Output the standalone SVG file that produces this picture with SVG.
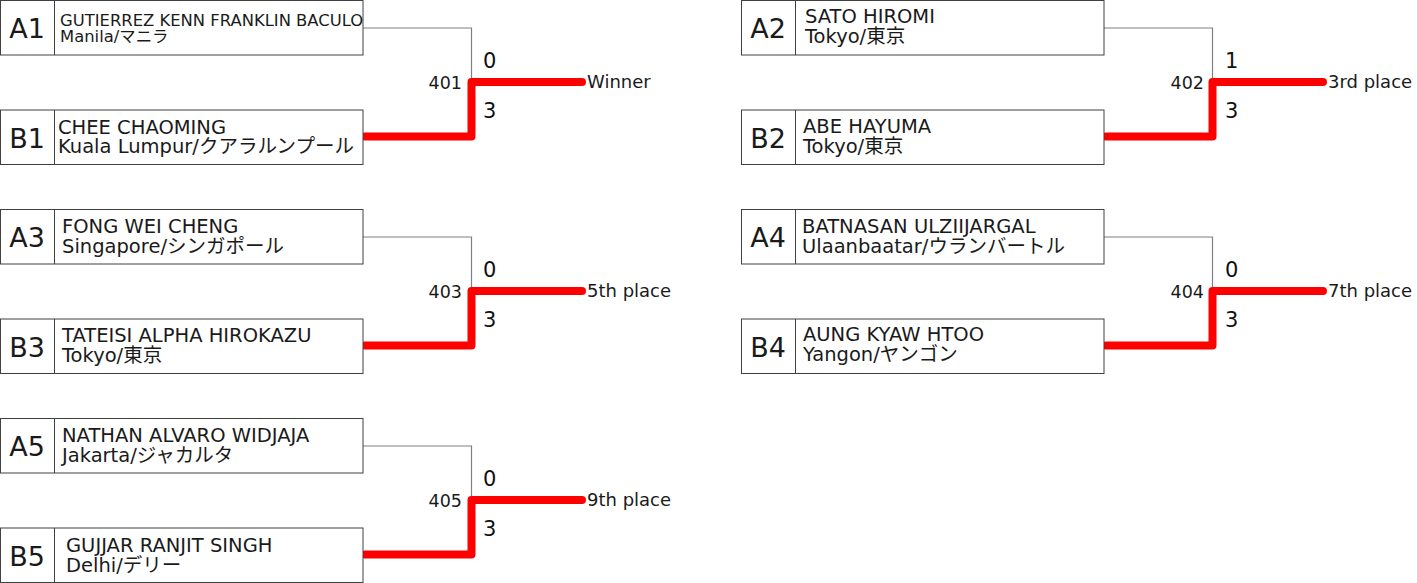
<svg xmlns="http://www.w3.org/2000/svg" width="1417" height="583" viewBox="0 0 1417 583">
<style>
.box{fill:#fff;stroke:#404040;stroke-width:1}
.sep{stroke:#404040;stroke-width:1}
.lbl{font-family:"DejaVu Sans","Noto Sans CJK JP",sans-serif;font-size:27px;fill:#1a1a1a;text-anchor:middle}
.nm{font-family:"DejaVu Sans","Noto Sans CJK JP",sans-serif;font-size:19.5px;fill:#1a1a1a}
.sm{font-family:"DejaVu Sans","Noto Sans CJK JP",sans-serif;font-size:16.4px;fill:#1a1a1a}
.mid{font-family:"DejaVu Sans",sans-serif;font-size:17.5px;fill:#1a1a1a;text-anchor:end}
.sc{font-family:"DejaVu Sans",sans-serif;font-size:21px;fill:#111}
.pl{font-family:"DejaVu Sans",sans-serif;font-size:18px;fill:#1a1a1a}
.lose{fill:none;stroke:#808080;stroke-width:1.2}
.win{fill:none;stroke:#ff0000;stroke-width:8;stroke-linecap:round;stroke-linejoin:round}
</style>
<rect width="1417" height="583" fill="#fff"/>
<g id="connectors">
<path class="lose" d="M363,28 H471.5 V82"/>
<path class="win" d="M365,136.5 H471.5 V82 H582"/>
<path class="lose" d="M1104,28 H1212.5 V82"/>
<path class="win" d="M1106,136.5 H1212.5 V82 H1323"/>
<path class="lose" d="M363,237 H471.5 V291"/>
<path class="win" d="M365,345.5 H471.5 V291 H582"/>
<path class="lose" d="M1104,237 H1212.5 V291"/>
<path class="win" d="M1106,345.5 H1212.5 V291 H1323"/>
<path class="lose" d="M363,446 H471.5 V500"/>
<path class="win" d="M365,554.5 H471.5 V500 H582"/>
</g>
<g id="A1"><rect class="box" x="0.5" y="0.5" width="362.5" height="54.5"/><line class="sep" x1="54.5" y1="0.5" x2="54.5" y2="55"/><text class="lbl" x="27" y="38">A1</text><text class="sm" x="60" y="26">GUTIERREZ KENN FRANKLIN BACULO</text><text class="sm" x="60" y="42">Manila/マニラ</text></g>
<g id="B1"><rect class="box" x="0.5" y="110" width="362.5" height="54.5"/><line class="sep" x1="54.5" y1="110" x2="54.5" y2="164.5"/><text class="lbl" x="27" y="147.5">B1</text><text class="nm" x="58" y="134">CHEE CHAOMING</text><text class="nm" x="58" y="153">Kuala Lumpur/クアラルンプール</text></g>
<g id="A2"><rect class="box" x="741.5" y="0.5" width="362.5" height="54.5"/><line class="sep" x1="795.5" y1="0.5" x2="795.5" y2="55"/><text class="lbl" x="768" y="38">A2</text><text class="nm" x="805" y="23">SATO HIROMI</text><text class="nm" x="805" y="43">Tokyo/東京</text></g>
<g id="B2"><rect class="box" x="741.5" y="110" width="362.5" height="54.5"/><line class="sep" x1="795.5" y1="110" x2="795.5" y2="164.5"/><text class="lbl" x="768" y="147.5">B2</text><text class="nm" x="803" y="133">ABE HAYUMA</text><text class="nm" x="803" y="153">Tokyo/東京</text></g>
<g id="A3"><rect class="box" x="0.5" y="209.5" width="362.5" height="54.5"/><line class="sep" x1="54.5" y1="209.5" x2="54.5" y2="264"/><text class="lbl" x="27" y="247">A3</text><text class="nm" x="62" y="233">FONG WEI CHENG</text><text class="nm" x="62" y="253">Singapore/シンガポール</text></g>
<g id="B3"><rect class="box" x="0.5" y="319" width="362.5" height="54.5"/><line class="sep" x1="54.5" y1="319" x2="54.5" y2="373.5"/><text class="lbl" x="27" y="356.5">B3</text><text class="nm" x="62" y="342">TATEISI ALPHA HIROKAZU</text><text class="nm" x="62" y="362">Tokyo/東京</text></g>
<g id="A4"><rect class="box" x="741.5" y="209.5" width="362.5" height="54.5"/><line class="sep" x1="795.5" y1="209.5" x2="795.5" y2="264"/><text class="lbl" x="768" y="247">A4</text><text class="nm" x="802" y="233">BATNASAN ULZIIJARGAL</text><text class="nm" x="802" y="253">Ulaanbaatar/ウランバートル</text></g>
<g id="B4"><rect class="box" x="741.5" y="319" width="362.5" height="54.5"/><line class="sep" x1="795.5" y1="319" x2="795.5" y2="373.5"/><text class="lbl" x="768" y="356.5">B4</text><text class="nm" x="803" y="341">AUNG KYAW HTOO</text><text class="nm" x="803" y="361">Yangon/ヤンゴン</text></g>
<g id="A5"><rect class="box" x="0.5" y="418.5" width="362.5" height="54.5"/><line class="sep" x1="54.5" y1="418.5" x2="54.5" y2="473"/><text class="lbl" x="27" y="456">A5</text><text class="nm" x="62" y="442">NATHAN ALVARO WIDJAJA</text><text class="nm" x="62" y="462">Jakarta/ジャカルタ</text></g>
<g id="B5"><rect class="box" x="0.5" y="528" width="362.5" height="54.5"/><line class="sep" x1="54.5" y1="528" x2="54.5" y2="582.5"/><text class="lbl" x="27" y="565.5">B5</text><text class="nm" x="66" y="552">GUJJAR RANJIT SINGH</text><text class="nm" x="66" y="572">Delhi/デリー</text></g>
<g id="M401"><text class="mid" x="462" y="89">401</text><text class="sc" x="483" y="68">0</text><text class="sc" x="483" y="118">3</text><text class="pl" x="587" y="88">Winner</text></g>
<g id="M402"><text class="mid" x="1204" y="89">402</text><text class="sc" x="1225" y="68">1</text><text class="sc" x="1225" y="118">3</text><text class="pl" x="1328" y="88">3rd place</text></g>
<g id="M403"><text class="mid" x="462" y="298">403</text><text class="sc" x="483" y="277">0</text><text class="sc" x="483" y="327">3</text><text class="pl" x="587" y="297">5th place</text></g>
<g id="M404"><text class="mid" x="1204" y="298">404</text><text class="sc" x="1225" y="277">0</text><text class="sc" x="1225" y="327">3</text><text class="pl" x="1328" y="297">7th place</text></g>
<g id="M405"><text class="mid" x="462" y="507">405</text><text class="sc" x="483" y="486">0</text><text class="sc" x="483" y="536">3</text><text class="pl" x="587" y="506">9th place</text></g>
</svg>
